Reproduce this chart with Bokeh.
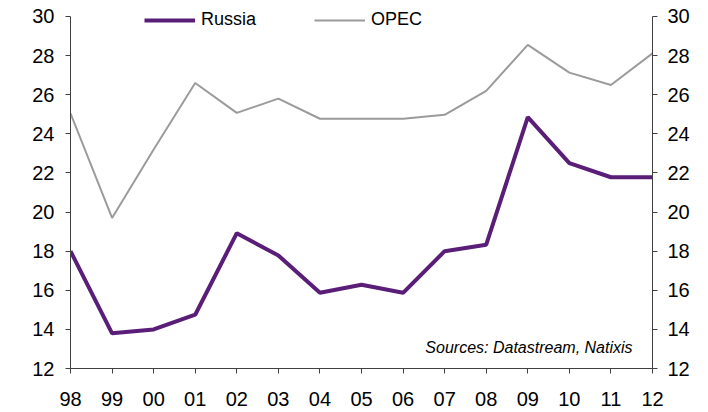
from bokeh.plotting import figure
from bokeh.models import (Range1d, LinearAxis, FixedTicker, Legend, LegendItem, Label)
from bokeh.embed import file_html
from bokeh.resources import INLINE

years = ["98", "99", "00", "01", "02", "03", "04", "05", "06", "07", "08", "09", "10", "11", "12"]
russia = [18.0, 13.8, 14.0, 14.75, 18.92, 17.78, 15.87, 16.28, 15.87, 18.0, 18.33, 24.85, 22.5, 21.78, 21.78]
opec = [25.05, 19.7, 23.2, 26.6, 25.07, 25.8, 24.77, 24.77, 24.77, 24.97, 26.2, 28.55, 27.13, 26.5, 28.12]
y_ticks = [12, 14, 16, 18, 20, 22, 24, 26, 28, 30]
source_text = "Sources: Datastream, Natixis"

FONT = "Liberation Sans"
xs = list(range(len(years)))

# extra headroom above 30 so the legend (which overlaps the top) is not clipped
p = figure(frame_width=582, frame_height=364, output_backend="svg", toolbar_location=None,
           x_range=Range1d(0, len(years) - 1), y_range=Range1d(12, 30.613),
           min_border_left=70, min_border_right=40, min_border_top=4, min_border_bottom=10)
p.outline_line_color = None
p.xgrid.grid_line_color = None
p.ygrid.grid_line_color = None
p.background_fill_color = "white"
p.border_fill_color = "white"

r_opec = p.line(xs, opec, line_color="#9b9b9b", line_width=2)
r_rus = p.line(xs, russia, line_color="#5a1e78", line_width=4)

def style_axis(ax, standoff):
    ax.axis_line_color = "#404040"
    ax.major_tick_line_color = "#404040"
    ax.major_tick_in = 0
    ax.major_tick_out = 5
    ax.minor_tick_line_color = None
    ax.major_label_text_font = FONT
    ax.major_label_text_font_size = "20px"
    ax.major_label_text_color = "#000000"
    ax.major_label_standoff = standoff

xa = p.xaxis[0]
xa.ticker = FixedTicker(ticks=xs)
xa.major_label_overrides = {i: y for i, y in enumerate(years)}
style_axis(xa, 18)

ya = p.yaxis[0]
ya.ticker = FixedTicker(ticks=y_ticks)
ya.bounds = (12, 30)
style_axis(ya, 11)

ra = LinearAxis(ticker=FixedTicker(ticks=y_ticks), bounds=(12, 30))
style_axis(ra, 10)
p.add_layout(ra, "right")

legend = Legend(items=[LegendItem(label="Russia", renderers=[r_rus]),
                       LegendItem(label="OPEC", renderers=[r_opec])],
                orientation="horizontal", location=(74, 338),
                glyph_width=51, glyph_height=20, label_standoff=6, spacing=58,
                padding=0, margin=0, border_line_alpha=0, background_fill_alpha=0,
                label_text_font=FONT, label_text_font_size="18px", label_text_color="#000000")
p.add_layout(legend, "center")

p.add_layout(Label(x=13.52, y=13.09, text=source_text, text_align="right", text_baseline="middle",
                   text_font=FONT, text_font_size="16px", text_font_style="italic", text_color="#000000"))

open("out.html", "w").write(file_html(p, INLINE))
